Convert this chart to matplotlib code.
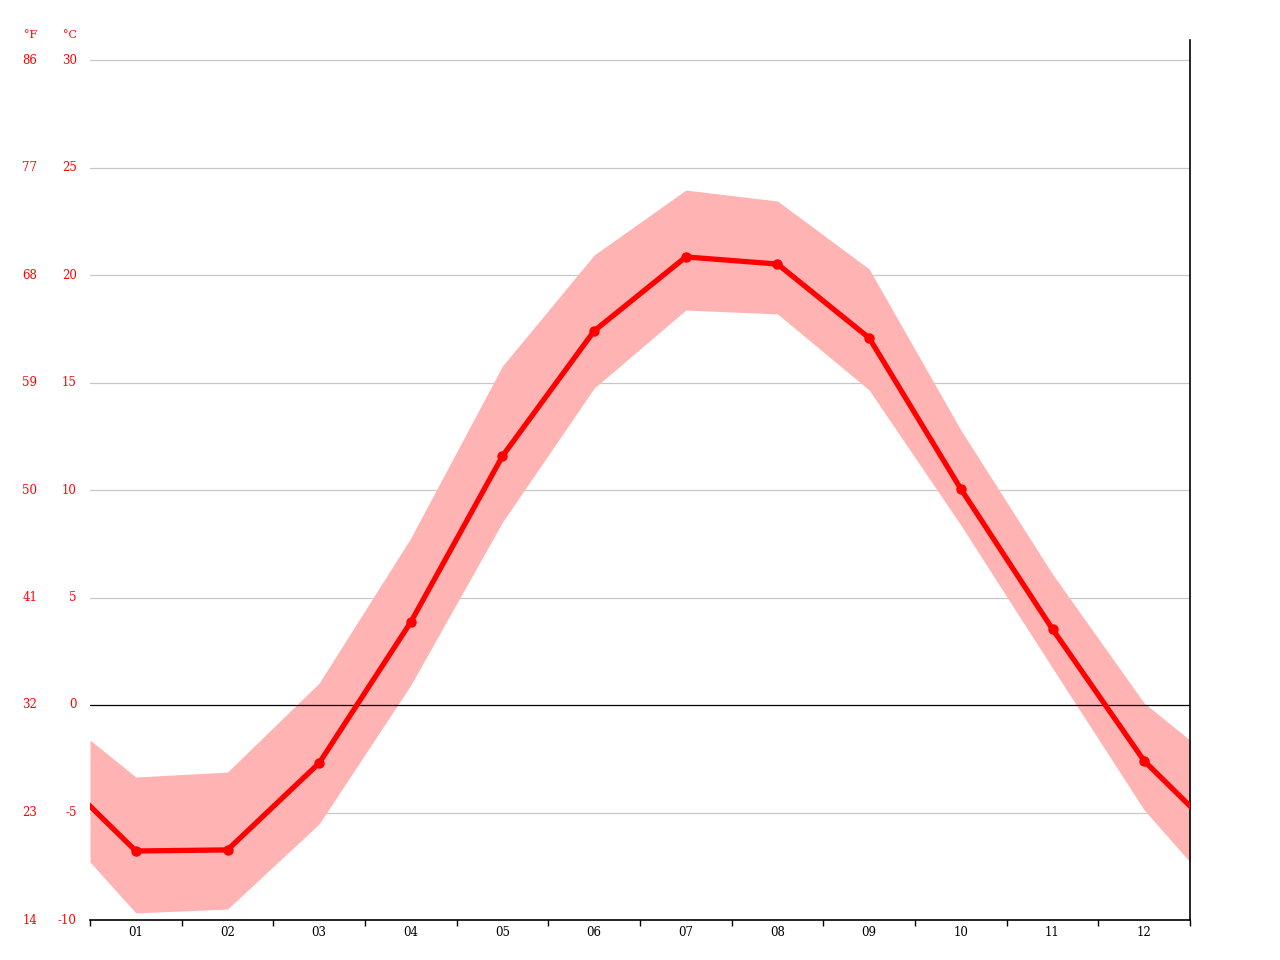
import numpy as np
import matplotlib
matplotlib.use("Agg")
import matplotlib.pyplot as plt

months = ["01", "02", "03", "04", "05", "06", "07", "08", "09", "10", "11", "12"]
mean_c = [-6.79, -6.74, -2.70, 3.86, 11.58, 17.40, 20.84, 20.51, 17.07, 10.05, 3.53, -2.60]
high_c = [-3.35, -3.12, 1.02, 7.77, 15.77, 20.93, 23.95, 23.44, 20.28, 12.79, 6.09, 0.09]
low_c = [-9.67, -9.49, -5.53, 0.93, 8.51, 14.74, 18.37, 18.19, 14.65, 8.37, 1.72, -4.88]
# values at the left / right edge of the plot (half a month out)
edge_mean = -4.7
edge_high = -1.63
edge_low = -7.3

c_ticks = [-10, -5, 0, 5, 10, 15, 20, 25, 30]
f_ticks = ["14", "23", "32", "41", "50", "59", "68", "77", "86"]

x = np.arange(1, 13)
xe = np.concatenate([[0.5], x, [12.5]])
mean_e = [edge_mean] + mean_c + [edge_mean]
high_e = [edge_high] + high_c + [edge_high]
low_e = [edge_low] + low_c + [edge_low]

fig = plt.figure(figsize=(12.8, 9.6), dpi=100)
ax = fig.add_axes([90 / 1280, 40 / 960, 1100 / 1280, 880 / 960])
ax.set_xlim(0.5, 12.5)
ax.set_ylim(-10, 30 + 20 / 21.5)

for t in c_ticks[1:]:
    if t != 0:
        ax.axhline(t, color="#c8c8c8", lw=0.9, zorder=1)

ax.fill_between(xe, low_e, high_e, color="#ffb3b3", lw=0, zorder=2)
ax.axhline(0, color="black", lw=0.9, zorder=3)
ax.plot(xe, mean_e, color="#ff0000", lw=3.8, zorder=4, solid_joinstyle="round")
ax.plot(x, mean_c, "o", color="#ff0000", ms=6.5, zorder=5)

for s in ["top", "left"]:
    ax.spines[s].set_visible(False)
ax.spines["right"].set_color("black")
ax.spines["right"].set_linewidth(1.2)
ax.spines["bottom"].set_linewidth(1.2)

ax.set_xticks(np.arange(0.5, 13, 1))
ax.set_xticklabels([])
ax.set_xticks(x, minor=True)
ax.set_xticklabels(months, minor=True, fontfamily="DejaVu Serif", fontsize=8.5)
ax.tick_params(axis="x", which="major", length=4.5, width=1, direction="out", color="black")
ax.tick_params(axis="x", which="minor", length=0, pad=4)
ax.set_yticks([])

trans = ax.get_yaxis_transform()
for c, f in zip(c_ticks, f_ticks):
    ax.text(-0.012, c, str(c), transform=trans, ha="right", va="center",
            color="red", fontsize=8.5, fontfamily="DejaVu Serif")
    ax.text(-0.048, c, f, transform=trans, ha="right", va="center",
            color="red", fontsize=8.5, fontfamily="DejaVu Serif")
ax.text(-0.012, 31.16, "°C", transform=trans, ha="right", va="center",
        color="red", fontsize=8, fontfamily="DejaVu Serif", clip_on=False)
ax.text(-0.048, 31.16, "°F", transform=trans, ha="right", va="center",
        color="red", fontsize=8, fontfamily="DejaVu Serif", clip_on=False)

fig.savefig("out.png", dpi=100)
